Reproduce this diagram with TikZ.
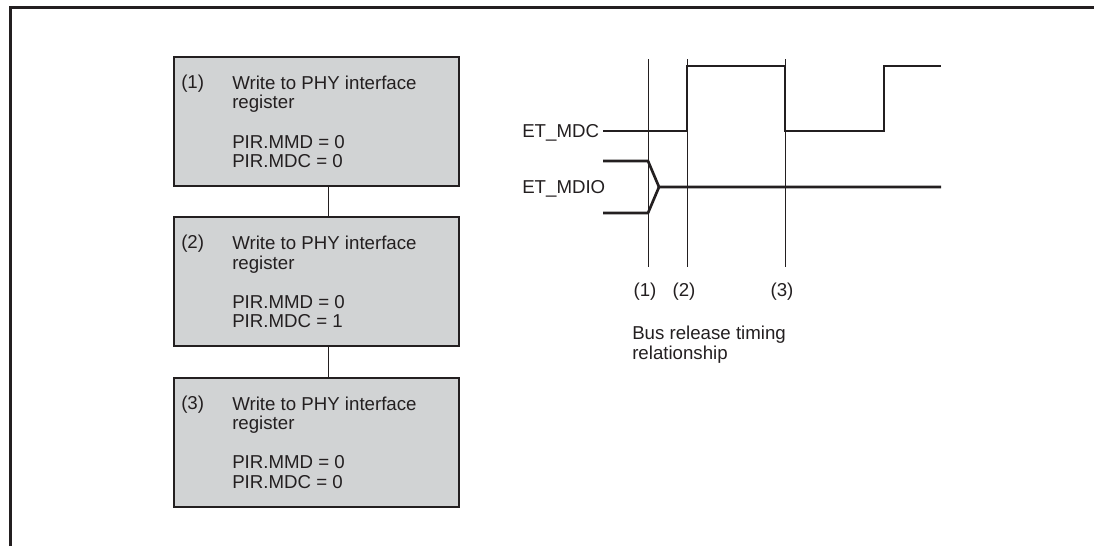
\documentclass[tikz,border=0pt]{standalone}
\usepackage{fontspec}
\setmainfont{Liberation Sans}
\usetikzlibrary{positioning}
\definecolor{ink}{HTML}{231F20}
\definecolor{boxgray}{HTML}{D1D3D4}
\begin{document}
\begin{tikzpicture}[
  x=0.75pt,y=-0.75pt,
  font=\fontsize{14}{14.6}\selectfont,
  text=ink,
  regbox/.style={draw=ink, fill=boxgray, line width=1.5pt, outer sep=0pt, inner sep=0pt,
    minimum width=213.75pt, minimum height=96.75pt},
  num/.style={anchor=base west, inner sep=0pt},
  body/.style={anchor=base west, inner sep=0pt, align=left},
  link/.style={draw=ink, line width=0.75pt},
  signal/.style={draw=ink, line width=2pt},
  marker/.style={draw=ink, line width=0.75pt},
  node distance=23.6pt
]
\useasboundingbox (0,0) rectangle (1094,546);
% frame
\draw[ink, line width=2.25pt] (10,546) -- (10,7.5) -- (1094,7.5);

% register writes (body anchored on its last line)
\node[regbox] (b1) at (316.5,121.5) {};
\node[regbox, below=of b1] (b2) {};
\node[regbox, below=of b2] (b3) {};
\foreach \i/\v in {1/0,2/1,3/0}{
  \node[num] (n\i) at ([shift={(7,31.5)}]b\i.north west) {(\i)};
  \node[body] (t\i) at ([shift={(58,110.5)}]b\i.north west)
    {Write to PHY interface\\register\\[15pt]PIR.MMD = 0\\PIR.MDC = \v};
}
\draw[link] ([shift={(11.5,0)}]b1.south) -- ([shift={(11.5,0)}]b2.north);
\draw[link] ([shift={(11.5,0)}]b2.south) -- ([shift={(11.5,0)}]b3.north);

% timing
\node[num] (mdc) at (522,137.5) {ET\_MDC};
\node[num] (mdio) at (522,193.5) {ET\_MDIO};
\foreach \x/\n in {648/1,687/2,785/3}{
  \draw[marker] (\x,59) -- (\x,267);
  \node[anchor=base, inner sep=0pt] (m\n) at (\x-3,296) {(\n)};
}
\draw[signal] (603,131) -- (687,131) -- (687,66) -- (785,66) -- (785,131)
  -- (884,131) -- (884,66) -- (941,66);
\draw[signal] (603,161) -- (648,161) -- (659,187) -- (941,187);
\draw[signal] (603,213) -- (648,213) -- (659,187);
\node[body] (cap) at (632,359) {Bus release timing\\relationship};
\end{tikzpicture}
\end{document}
